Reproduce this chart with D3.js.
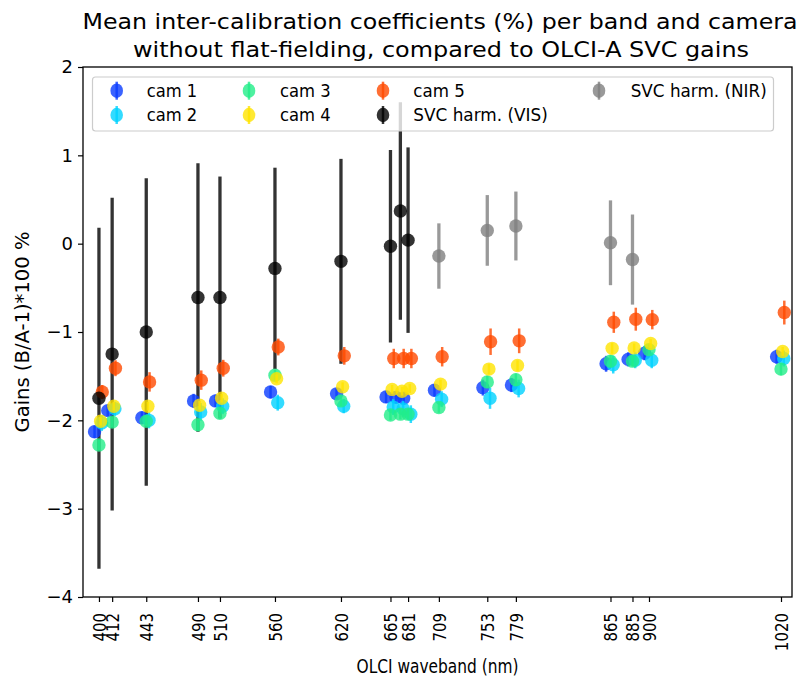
<!DOCTYPE html>
<html>
<head>
<meta charset="utf-8">
<script src="https://cdn.jsdelivr.net/npm/d3@7"></script>
<style>
  body { margin: 0; background: #fff; }
  svg { display: block; }
  text { font-family: "DejaVu Sans", sans-serif; fill: #000; }
</style>
</head>
<body>
<svg id="chart" width="802" height="679"></svg>
<script>
// OLCI band centres (nm) used for the camera gains
const bands = [400, 412, 443, 490, 510, 560, 620, 665, 674, 681, 709, 753, 779, 865, 885, 900, 1020];
// labelled ticks on the wavelength axis
const tickBands = [400, 412, 443, 490, 510, 560, 620, 665, 681, 709, 753, 779, 865, 885, 900, 1020];
const tickLabels = ["400", "412", "443", "490", "510", "560", "620", "665", "681", "709", "753", "779", "865", "885", "900", "1020"];
const yTicks = [-4, -3, -2, -1, 0, 1, 2];

// mean inter-calibration gains (%) per camera
const cam1 = [-2.13, -1.89, -1.97, -1.78, -1.78, -1.68, -1.70, -1.735, -1.74, -1.75, -1.66, -1.63, -1.60, -1.36, -1.31, -1.24, -1.28];
const cam2 = [-2.03, -1.87, -2.00, -1.905, -1.84, -1.80, -1.84, -1.85, -1.87, -1.93, -1.76, -1.75, -1.64, -1.37, -1.32, -1.32, -1.30];
const cam3 = [-2.28, -2.02, -2.01, -2.05, -1.92, -1.49, -1.78, -1.94, -1.93, -1.93, -1.855, -1.565, -1.54, -1.33, -1.33, -1.20, -1.42];
const cam4 = [-2.01, -1.84, -1.84, -1.83, -1.75, -1.53, -1.62, -1.65, -1.67, -1.64, -1.59, -1.42, -1.38, -1.185, -1.18, -1.13, -1.22];
const cam5 = [-1.68, -1.41, -1.565, -1.545, -1.41, -1.17, -1.27, -1.30, -1.30, -1.30, -1.28, -1.11, -1.10, -0.89, -0.855, -0.86, -0.78];

// standard deviation of the gains per camera
const camErr1 = [0.07, 0.06, 0.07, 0.08, 0.07, 0.07, 0.06, 0.07, 0.07, 0.07, 0.07, 0.09, 0.08, 0.09, 0.08, 0.08, 0.08];
const camErr2 = [0.09, 0.08, 0.09, 0.10, 0.09, 0.09, 0.08, 0.09, 0.09, 0.10, 0.09, 0.12, 0.10, 0.10, 0.09, 0.09, 0.09];
const camErr3 = [0.06, 0.06, 0.06, 0.07, 0.06, 0.06, 0.06, 0.06, 0.06, 0.06, 0.06, 0.07, 0.07, 0.07, 0.06, 0.06, 0.07];
const camErr4 = [0.05, 0.05, 0.05, 0.05, 0.05, 0.05, 0.05, 0.05, 0.05, 0.05, 0.05, 0.06, 0.06, 0.06, 0.05, 0.05, 0.05];
const camErr5 = [0.08, 0.09, 0.11, 0.11, 0.095, 0.095, 0.10, 0.11, 0.11, 0.11, 0.11, 0.15, 0.14, 0.12, 0.13, 0.11, 0.135];

// SVC harmonisation gains, visible bands
const visBands = [400, 412, 443, 490, 510, 560, 620, 665, 674, 681];
const visGain = [-1.75, -1.25, -1.00, -0.61, -0.61, -0.28, -0.20, -0.03, 0.37, 0.04];
const visErr = [1.93, 1.77, 1.74, 1.52, 1.37, 1.14, 1.16, 1.09, 1.23, 1.05];

// SVC harmonisation gains, near-infrared bands
const nirBands = [709, 753, 779, 865, 885];
const nirGain = [-0.14, 0.15, 0.20, 0.01, -0.18];
const nirErr = [0.37, 0.40, 0.39, 0.48, 0.51];

const camNames = ["cam 1", "cam 2", "cam 3", "cam 4", "cam 5"];
const camValues = [cam1, cam2, cam3, cam4, cam5];
const camErrors = [camErr1, camErr2, camErr3, camErr4, camErr5];

// ---- styling ----
const camColors = ["#0a3cff", "#00d2ff", "#22ee88", "#ffe400", "#ff4a00"];
const camDodge = [-4, 2.5, 0, 1.5, 3];     // small wavelength shift (nm) so markers stay visible
const visColor = "#000000", nirColor = "#808080";
const markerR = 6.7;

const svg = d3.select("#chart");
const plot = { left: 83, right: 792, top: 67, bottom: 597 };

const x = d3.scaleLinear().domain([385.5, 1030]).range([plot.left, plot.right]);
const y = d3.scaleLinear().domain([-4, 2]).range([plot.bottom, plot.top]);

// text helper: optional fitted length
function addText(parent, str, opts) {
  const t = parent.append("text")
    .attr("x", opts.x).attr("y", opts.y)
    .attr("font-size", opts.size)
    .attr("text-anchor", opts.anchor || "start")
    .text(str);
  if (opts.len) t.attr("textLength", opts.len).attr("lengthAdjust", "spacingAndGlyphs");
  if (opts.transform) t.attr("transform", opts.transform);
  return t;
}

// ---- title ----
addText(svg, "Mean inter-calibration coefficients (%) per band and camera", { x: 440, y: 28.5, size: 22, anchor: "middle", len: 715 });
addText(svg, "without flat-fielding, compared to OLCI-A SVC gains", { x: 441, y: 56.5, size: 22, anchor: "middle", len: 616 });

// ---- axes ----
const minus = d => (d < 0 ? "\u2212" + Math.abs(d) : String(d));
const yAxis = svg.append("g").attr("transform", `translate(${plot.left},0)`)
  .call(d3.axisLeft(y).tickValues(yTicks).tickSize(5).tickPadding(5).tickFormat(minus));
yAxis.select(".domain").remove();
yAxis.selectAll(".tick line").attr("stroke", "#000").attr("stroke-width", 1.2);
yAxis.selectAll(".tick text").attr("font-size", 18).attr("font-family", "DejaVu Sans").attr("fill", "#000");

const xAxis = svg.append("g").attr("transform", `translate(0,${plot.bottom})`)
  .call(d3.axisBottom(x).tickValues(tickBands).tickSize(5).tickFormat((d, i) => tickLabels[i]));
xAxis.select(".domain").remove();
xAxis.selectAll(".tick line").attr("stroke", "#000").attr("stroke-width", 1.2);
xAxis.selectAll(".tick text")
  .attr("font-size", 15).attr("font-family", "DejaVu Sans").attr("fill", "#000")
  .attr("x", 0).attr("y", 0).attr("dy", "0.36em")
  .attr("text-anchor", "end")
  .attr("transform", "translate(0,16) scale(1.15,1) rotate(-90)");

// axis titles
addText(svg, "OLCI waveband (nm)", { x: (plot.left + plot.right) / 2, y: 673, size: 20, anchor: "middle", len: 162 });
addText(svg, "Gains (B/A-1)*100 %", { x: 0, y: 0, size: 19, anchor: "middle", len: 201, transform: "translate(29,332) rotate(-90)" });

// ---- data layers ----
const data = svg.append("g");

function errorSeries(g, xs, vals, errs, color, opts) {
  const pts = xs.map((b, i) => ({ b, v: vals[i], e: errs[i] }));
  const s = g.append("g");
  if (opts.bars !== false) {
    s.selectAll("line").data(pts).join("line")
      .attr("x1", d => x(d.b + opts.dx)).attr("x2", d => x(d.b + opts.dx))
      .attr("y1", d => y(d.v - d.e)).attr("y2", d => y(d.v + d.e))
      .attr("stroke", color).attr("stroke-width", opts.bw).attr("stroke-opacity", opts.alpha);
  }
  if (opts.marks !== false) {
    s.selectAll("circle").data(pts).join("circle")
      .attr("cx", d => x(d.b + opts.dx)).attr("cy", d => y(d.v))
      .attr("r", markerR).attr("fill", color).attr("fill-opacity", opts.alpha);
  }
}

// SVC error bars below camera markers
errorSeries(data, visBands, visGain, visErr, visColor, { dx: 0, bw: 3.3, alpha: 0.8, marks: false });
errorSeries(data, nirBands, nirGain, nirErr, nirColor, { dx: 0, bw: 3.3, alpha: 0.8, marks: false });

camValues.forEach((vals, c) => {
  errorSeries(data, bands, vals, camErrors[c], camColors[c], { dx: camDodge[c], bw: 2.5, alpha: 0.8 });
});

// SVC markers on top
errorSeries(data, visBands, visGain, visErr, visColor, { dx: 0, bw: 3.3, alpha: 0.8, bars: false });
errorSeries(data, nirBands, nirGain, nirErr, nirColor, { dx: 0, bw: 3.3, alpha: 0.8, bars: false });

// ---- frame ----
svg.append("rect")
  .attr("x", plot.left).attr("y", plot.top)
  .attr("width", plot.right - plot.left).attr("height", plot.bottom - plot.top)
  .attr("fill", "none").attr("stroke", "#000").attr("stroke-width", 1.3);

// ---- legend ----
const legend = svg.append("g");
legend.append("rect")
  .attr("x", 92.5).attr("y", 77).attr("width", 681).attr("height", 54)
  .attr("rx", 3).attr("fill", "#fff").attr("fill-opacity", 0.8)
  .attr("stroke", "#cccccc").attr("stroke-width", 1.2);

const legendItems = [
  { name: camNames[0], color: camColors[0], mx: 116.7, tx: 146.7, row: 0, len: 50.6 },
  { name: camNames[1], color: camColors[1], mx: 116.7, tx: 146.7, row: 1, len: 50.6 },
  { name: camNames[2], color: camColors[2], mx: 249, tx: 280, row: 0, len: 50.7 },
  { name: camNames[3], color: camColors[3], mx: 249, tx: 280, row: 1, len: 50.7 },
  { name: camNames[4], color: camColors[4], mx: 383, tx: 413.3, row: 0, len: 51.5 },
  { name: "SVC harm. (VIS)", color: visColor, mx: 383, tx: 413.3, row: 1, len: 134.5 },
  { name: "SVC harm. (NIR)", color: nirColor, mx: 599, tx: 630.7, row: 0, len: 136 }
];
const rowY = [90.7, 115];
legendItems.forEach(it => {
  const cy = rowY[it.row];
  legend.append("line")
    .attr("x1", it.mx).attr("x2", it.mx).attr("y1", cy - 9).attr("y2", cy + 9)
    .attr("stroke", it.color).attr("stroke-width", 2.5).attr("stroke-opacity", 0.8);
  legend.append("ellipse")
    .attr("cx", it.mx).attr("cy", cy).attr("rx", 6.3).attr("ry", 7.2)
    .attr("fill", it.color).attr("fill-opacity", 0.8);
  addText(legend, it.name, { x: it.tx, y: cy + 6.2, size: 18.5, len: it.len });
});
</script>
</body>
</html>
